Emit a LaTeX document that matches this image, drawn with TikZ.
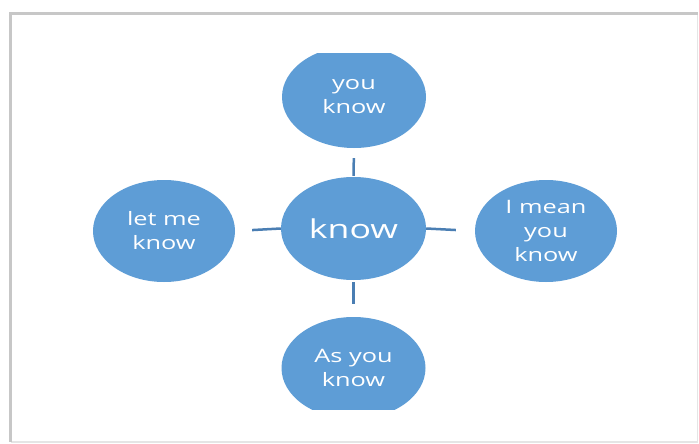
\documentclass[tikz,border=0pt]{standalone}
\usepackage{fontspec}
\setmainfont{Open Sans}[FakeStretch=1.37]
\usetikzlibrary{shapes.geometric}
\definecolor{bub}{HTML}{5E9DD6}
\definecolor{con}{HTML}{4A7EB3}
\begin{document}
\begin{tikzpicture}[x=1pt,y=-1pt,
  bubble/.style={ellipse, fill=bub, text=white, inner sep=0pt,
    minimum width=144pt, minimum height=102pt, align=center,
    font=\fontsize{18.5}{24}\selectfont},
  conn/.style={draw=con, line width=2.5pt}]
\useasboundingbox (0,0) rectangle (699,444);
\fill[white] (0,0) rectangle (699,444);
% panel frame with shadow
\draw[black!10, line width=1.5pt] (11,442) -- (697.5,442) -- (697.5,14);
\draw[black!22, line width=3pt] (10.5,442) -- (10.5,13.5) -- (697.5,13.5);
\begin{scope}
  \clip (0,54) rectangle (699,409);
  \node[bubble] (t) at (354,97) {you\\know};
  \node[bubble] (b) at (353.5,368) {As you\\know};
\end{scope}
\node[bubble] (c) at (353.5,228.5) [minimum width=145pt, minimum height=103pt,
  font=\fontsize{26}{30}\selectfont] {know};
\node[bubble] (l) at (164,231) [minimum width=142pt] {let me\\know};
\node[bubble] (r) at (546,231) [minimum width=142pt] {I mean\\you\\know};
% connectors
\draw[conn, shorten <=10pt, shorten >=1pt] (t.south) -- (c.north);
\draw[conn, shorten <=2pt, shorten >=13pt] (c.south) -- (b.north);
\draw[conn, shorten <=0pt, shorten >=17pt] (c.west) -- (l.east);
\draw[conn, shorten <=0pt, shorten >=19pt] (c.east) -- (r.west);
\end{tikzpicture}
\end{document}
